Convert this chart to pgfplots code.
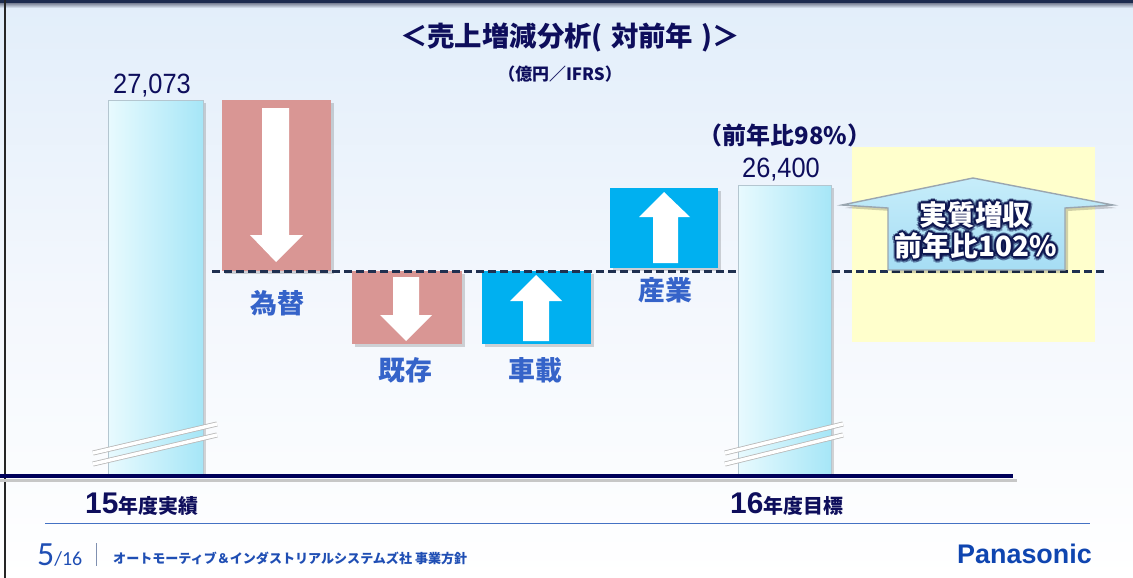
\documentclass[border=0pt]{standalone}
\usepackage{pgfplots}
\pgfplotsset{compat=1.18}
\usepackage{fontspec}
\setmainfont{Noto Sans CJK JP}
\newfontfamily\jp{Noto Sans CJK JP}
\newfontfamily\num{Liberation Sans}[FakeStretch=0.91]
\newfontfamily\arial{Liberation Sans}
\newfontfamily\carl{Carlito}

\definecolor{bgtop}{HTML}{E2EEFA}
\definecolor{bgmid}{HTML}{F3F7FD}
\definecolor{band}{HTML}{1D2C4F}
\definecolor{navy}{HTML}{0E0E5C}
\definecolor{catblue}{HTML}{3563C9}
\definecolor{redbox}{HTML}{D99694}
\definecolor{bluebox}{HTML}{00B0F0}
\definecolor{cyanL}{HTML}{E8FAFE}
\definecolor{cyanR}{HTML}{A6E6F7}
\definecolor{barline}{HTML}{B4C6D0}
\definecolor{dashc}{HTML}{1F3050}
\definecolor{baseC}{HTML}{00005A}
\definecolor{yel}{HTML}{FFFFCC}
\definecolor{arrtop}{HTML}{C6EDFA}
\definecolor{arrbot}{HTML}{A6DDF4}
\definecolor{arrline}{HTML}{9AA6B0}
\definecolor{glowc}{HTML}{0D1650}
\definecolor{thinblue}{HTML}{4472C4}
\definecolor{footblue}{HTML}{1F4EB4}
\definecolor{panablue}{HTML}{0F45B0}
\definecolor{sepc}{HTML}{8090B0}

% shifted copies of a text stacked in one box (halo): #1 straight, #2 diagonal offset
\newcommand\halobox[3]{%
  \rlap{\kern#1\relax #3}\rlap{\kern-#1\relax #3}%
  \rlap{\raisebox{#1}{#3}}\rlap{\raisebox{-#1}{#3}}%
  \rlap{\kern#2\raisebox{#2}{#3}}\rlap{\kern-#2\raisebox{#2}{#3}}%
  \rlap{\kern#2\raisebox{-#2}{#3}}\rlap{\kern-#2\raisebox{-#2}{#3}}%
  #3}
\newcommand\glow[3]{%
  \node[text=glowc, opacity=0.45, font=#3] at (#1) {\halobox{3.4bp}{2.4bp}{#2}};
  \node[text=glowc, font=#3] at (#1) {\halobox{1.8bp}{1.3bp}{#2}};
  \node[text=white, font=#3] at (#1) {#2};}

\begin{document}
\begin{tikzpicture}
\path[use as bounding box] (0,0) rectangle (1133bp,-578bp);
\shade[top color=bgtop, bottom color=white, middle color=bgmid] (0,0) rectangle (1133bp,-578bp);
\fill[band] (0,0) rectangle (1133bp,-3.5bp);
\shade[top color=band!55, bottom color=bgtop] (0,-3.5bp) rectangle (1133bp,-8bp);
\fill[black!85] (3.5bp,0) rectangle (6bp,-578bp);
\fill[yel] (852bp,-147bp) rectangle (1095bp,-342bp);

\begin{axis}[at={(0bp,0bp)}, anchor=north west, scale only axis,
  width=1133bp, height=578bp,
  xmin=0, xmax=1133, ymin=23288.4, ymax=27864.8,
  hide axis, clip=false]
% shadows
\addplot[draw=none, fill=black, fill opacity=0.16, xshift=3bp, yshift=-3bp] coordinates {(108,24104) (203,24104) (203,27073) (108,27073)};
\addplot[draw=none, fill=black, fill opacity=0.16, xshift=3bp, yshift=-3bp] coordinates {(222,25719) (331,25719) (331,27073) (222,27073)};
\addplot[draw=none, fill=black, fill opacity=0.16, xshift=3bp, yshift=-3bp] coordinates {(352,25141) (462,25141) (462,25719) (352,25719)};
\addplot[draw=none, fill=black, fill opacity=0.16, xshift=3bp, yshift=-3bp] coordinates {(482,25141) (591,25141) (591,25719) (482,25719)};
\addplot[draw=none, fill=black, fill opacity=0.16, xshift=3bp, yshift=-3bp] coordinates {(610,25743) (718,25743) (718,26376) (610,26376)};
\addplot[draw=none, fill=black, fill opacity=0.16, xshift=3bp, yshift=-3bp] coordinates {(738,24104) (831,24104) (831,26400) (738,26400)};
% 15年度実績
\addplot[draw=barline, line width=0.6bp, left color=cyanL, right color=cyanR] coordinates {(108,24104) (203,24104) (203,27073) (108,27073) (108,24104)};
% 為替
\addplot[draw=none, fill=redbox] coordinates {(222,25719) (331,25719) (331,27073) (222,27073)};
% 既存
\addplot[draw=none, fill=redbox] coordinates {(352,25141) (462,25141) (462,25719) (352,25719)};
% 車載
\addplot[draw=none, fill=bluebox] coordinates {(482,25141) (591,25141) (591,25719) (482,25719)};
% 産業
\addplot[draw=none, fill=bluebox] coordinates {(610,25743) (718,25743) (718,26376) (610,26376)};
% 16年度目標
\addplot[draw=barline, line width=0.6bp, left color=cyanL, right color=cyanR] coordinates {(738,24104) (831,24104) (831,26400) (738,26400) (738,24104)};
\end{axis}

% dashed reference line
\draw[dashc, line width=3bp, dash pattern=on 8bp off 4bp] (212bp,-271bp) -- (738bp,-271bp);
\draw[dashc, line width=3bp, dash pattern=on 8bp off 4bp] (832bp,-271bp) -- (1105bp,-271bp);

% arrows in the boxes
\fill[white] (262bp,-108bp) -- (289bp,-108bp) -- (289bp,-235bp) -- (303bp,-235bp) -- (276bp,-262bp) -- (250bp,-235bp) -- (262bp,-235bp) -- cycle;
\fill[white] (393bp,-277bp) -- (419bp,-277bp) -- (419bp,-315bp) -- (432bp,-315bp) -- (406bp,-341bp) -- (380bp,-315bp) -- (393bp,-315bp) -- cycle;
\fill[white] (523bp,-341bp) -- (549bp,-341bp) -- (549bp,-301bp) -- (562bp,-301bp) -- (536bp,-275bp) -- (510bp,-301bp) -- (523bp,-301bp) -- cycle;
\fill[white] (653bp,-263bp) -- (678bp,-263bp) -- (678bp,-217bp) -- (690bp,-217bp) -- (664bp,-192bp) -- (639bp,-217bp) -- (653bp,-217bp) -- cycle;

% big arrow
\fill[black, opacity=0.18] (845bp,-208bp) -- (976bp,-181bp) -- (1116bp,-208bp) -- (1068bp,-211bp) -- (1068bp,-273bp) -- (891bp,-273bp) -- (891bp,-211bp) -- cycle;
\shade[top color=arrtop, bottom color=arrbot, draw=arrline, line width=1.4bp]
  (842bp,-205bp) -- (973bp,-178bp) -- (1113bp,-205bp) -- (1065bp,-208bp) -- (1065bp,-270bp) -- (888bp,-270bp) -- (888bp,-208bp) -- cycle;
\glow{975bp,-215bp}{実質増収}{\jp\bfseries\fontsize{28}{28}\selectfont}
\glow{976bp,-246bp}{前年比102\%}{\jp\bfseries\fontsize{28}{28}\selectfont}

% axis break marks
\foreach \xa/\xb in {93/217, 725/843}{
  \draw[black!28, line width=5bp] (\xa bp,-453bp) -- (\xb bp,-424bp);
  \draw[white, line width=3.4bp] (\xa bp,-453bp) -- (\xb bp,-424bp);
  \draw[black!28, line width=5bp] (\xa bp,-464bp) -- (\xb bp,-435bp);
  \draw[white, line width=3.4bp] (\xa bp,-464bp) -- (\xb bp,-435bp);
}

% base line
\draw[black!22, line width=3bp] (0bp,-480bp) -- (1017bp,-480bp);
\draw[baseC, line width=3.6bp] (0bp,-476bp) -- (1013bp,-476bp);
\draw[thinblue, line width=1.5bp] (45bp,-523.5bp) -- (1090bp,-523.5bp);

% texts
\node[text=navy, font=\jp\bfseries\fontsize{27.5}{27.5}\selectfont] at (570bp,-38bp) {＜売上増減分析(\hspace{0.3em}対前年\hspace{0.3em})＞};
\node[text=navy, font=\jp\bfseries\fontsize{17}{17}\selectfont] at (560bp,-74bp) {（億円／IFRS）};
\node[text=navy, font=\num\fontsize{28}{28}\selectfont, anchor=base] at (152bp,-93bp) {27,073};
\node[text=navy, font=\num\fontsize{28}{28}\selectfont, anchor=base] at (781bp,-177bp) {26,400};
\node[text=navy, font=\jp\bfseries\fontsize{24}{24}\selectfont] at (785bp,-135bp) {（前年比98\%）};
\node[text=catblue, font=\jp\bfseries\fontsize{27}{27}\selectfont] at (277bp,-303bp) {為替};
\node[text=catblue, font=\jp\bfseries\fontsize{27}{27}\selectfont] at (405bp,-370bp) {既存};
\node[text=catblue, font=\jp\bfseries\fontsize{27}{27}\selectfont] at (535bp,-370bp) {車載};
\node[text=catblue, font=\jp\bfseries\fontsize{27}{27}\selectfont] at (665bp,-290bp) {産業};
\node[text=navy, anchor=base west, inner sep=0pt] at (85bp,-513bp) {{\arial\bfseries\fontsize{30}{30}\selectfont 15}{\jp\bfseries\fontsize{20}{20}\selectfont 年度実績}};
\node[text=navy, anchor=base west, inner sep=0pt] at (730bp,-513bp) {{\arial\bfseries\fontsize{30}{30}\selectfont 16}{\jp\bfseries\fontsize{20}{20}\selectfont 年度目標}};

% footer
\node[text=footblue, anchor=base west, inner sep=0pt] at (37bp,-565bp) {{\carl\fontsize{34}{34}\selectfont 5}{\carl\fontsize{20}{20}\selectfont /16}};
\draw[sepc, line width=1bp] (96bp,-543bp) -- (96bp,-566bp);
\node[text=footblue, anchor=base west, inner sep=0pt, font=\jp\bfseries\fontsize{13.1}{13.1}\selectfont] at (113bp,-563bp) {オートモーティブ＆インダストリアルシステムズ社 事業方針};
\node[text=panablue, anchor=base west, inner sep=0pt, font=\arial\bfseries\fontsize{27}{27}\selectfont] at (957bp,-563bp) {Panasonic};
\end{tikzpicture}
\end{document}
